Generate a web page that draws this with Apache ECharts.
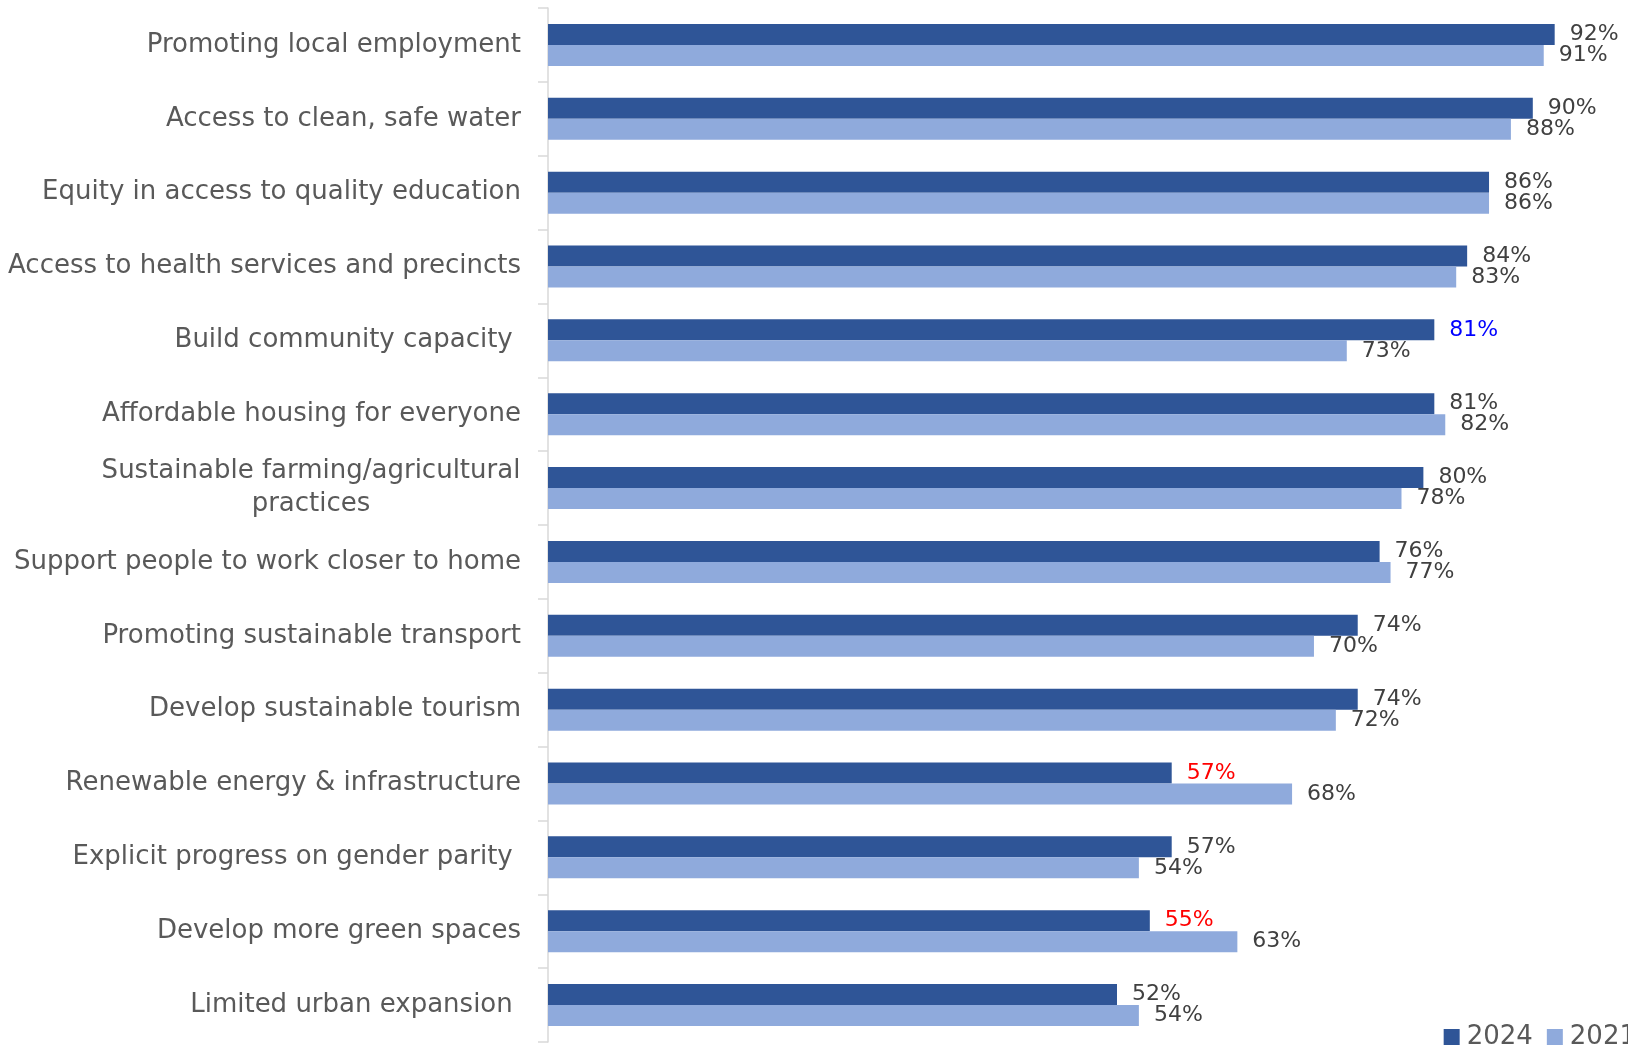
<!DOCTYPE html>
<html><head><meta charset="utf-8">
<script src="https://cdn.jsdelivr.net/npm/echarts@6/dist/echarts.min.js"></script>
<style>html,body{margin:0;padding:0;background:#fff}#c{width:1628px;height:1048px}</style>
</head><body><div id="c"></div>
<script>
const categories = [
  "Promoting local employment",
  "Access to clean, safe water",
  "Equity in access to quality education",
  "Access to health services and precincts",
  "Build community capacity ",
  "Affordable housing for everyone",
  "Sustainable farming/agricultural\npractices",
  "Support people to work closer to home",
  "Promoting sustainable transport",
  "Develop sustainable tourism",
  "Renewable energy & infrastructure",
  "Explicit progress on gender parity ",
  "Develop more green spaces",
  "Limited urban expansion "
];
const values2024 = [92, 90, 86, 84, 81, 81, 80, 76, 74, 74, 57, 57, 55, 52];
const values2021 = [91, 88, 86, 83, 73, 82, 78, 77, 70, 72, 68, 54, 63, 54];
// label colour overrides for 2024 values (null = default)
const labelColors2024 = [null, null, null, null, "#0000FF", null, null, null, null, null, "#FF0000", null, "#FF0000", null];

const labelFont = "DejaVu Sans";
const chart = echarts.init(document.getElementById('c'));
chart.setOption({
  animation: false,
  grid: {left: 548, right: 0, top: 8, bottom: 6},
  xAxis: {type: 'value', min: 0, max: 98.7, show: false},
  yAxis: {
    type: 'category', inverse: true, data: categories,
    axisLine: {show: true, lineStyle: {color: '#d9d9d9', width: 1.5}},
    axisTick: {show: true, alignWithLabel: false, interval: 0, length: 10, lineStyle: {color: '#d9d9d9', width: 1.5}},
    axisLabel: {
      margin: 27, color: '#595959', fontSize: 26, fontFamily: labelFont, interval: 0,
      formatter: function (v) {
        if (v.indexOf('\n') >= 0) {
          return v.split('\n').map(s => '{c|' + s + '}').join('\n');
        }
        return v;
      },
      rich: {c: {width: 420, align: 'center', fontSize: 26, fontFamily: labelFont, color: '#595959', lineHeight: 33}}
    }
  },
  legend: {
    right: -13, top: 1017, itemWidth: 16, itemHeight: 16, itemGap: 14,
    icon: 'rect',
    textStyle: {fontSize: 26, lineHeight: 30, color: '#595959', fontFamily: labelFont, padding: [0, 0, 0, 2]},
    data: ['2024', '2021']
  },
  series: [
    {
      name: '2024', type: 'bar', barWidth: 21, barGap: '0%',
      itemStyle: {color: '#2F5597'},
      label: {show: true, position: 'right', distance: 15, formatter: '{c}%', color: '#404040', fontSize: 22, fontFamily: labelFont},
      data: values2024.map((v, i) => labelColors2024[i] ? {value: v, label: {color: labelColors2024[i]}} : v)
    },
    {
      name: '2021', type: 'bar', barWidth: 21, barGap: '0%',
      itemStyle: {color: '#8FAADC'},
      label: {show: true, position: 'right', distance: 15, formatter: '{c}%', color: '#404040', fontSize: 22, fontFamily: labelFont},
      data: values2021
    }
  ]
});
</script></body></html>
